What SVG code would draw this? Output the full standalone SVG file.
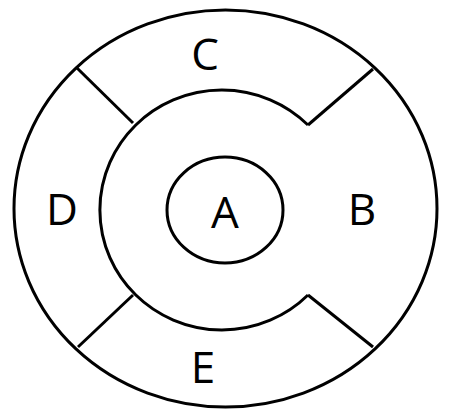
<svg xmlns="http://www.w3.org/2000/svg" width="450" height="411" viewBox="0 0 450 411">
<style>
.s{fill:none;stroke:#000;stroke-width:3}
.t{font-family:"Open Sans","Noto Sans",sans-serif;font-size:44px;fill:#000;text-anchor:middle}
</style>
<rect width="450" height="411" fill="#fff"/>
<g id="outer"><ellipse class="s" cx="225.5" cy="208.5" rx="211.5" ry="198.5"/></g>
<g id="middle"><path class="s" d="M308,125 A122,120 0 1 0 308,295"/></g>
<g id="connectors">
<line class="s" x1="77" y1="68" x2="133" y2="123"/>
<line class="s" x1="373" y1="69" x2="308" y2="125"/>
<line class="s" x1="78" y1="347" x2="133" y2="295"/>
<line class="s" x1="373" y1="347" x2="308" y2="295"/>
</g>
<g id="A"><ellipse class="s" cx="225" cy="210" rx="58" ry="53"/><text class="t" x="225" y="228">A</text></g>
<g id="B"><text class="t" x="362" y="225">B</text></g>
<g id="C"><text class="t" x="205" y="70">C</text></g>
<g id="D"><text class="t" x="62" y="225">D</text></g>
<g id="E"><text class="t" x="203" y="383">E</text></g>
</svg>
